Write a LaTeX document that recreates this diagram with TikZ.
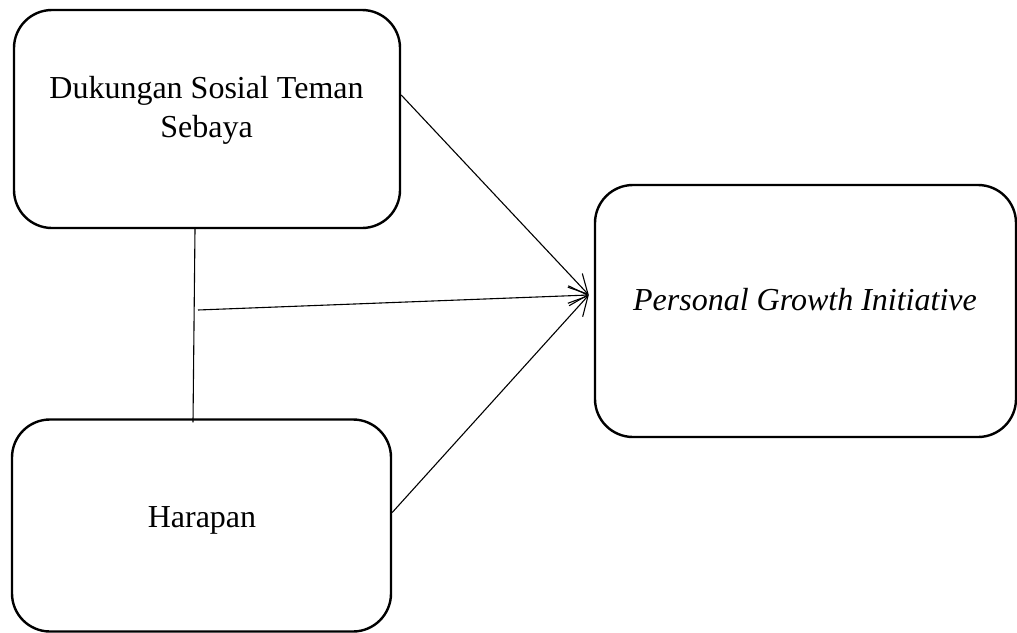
\documentclass[tikz,border=0pt]{standalone}
\usepackage{fontspec}
\setmainfont{Liberation Serif}
\usetikzlibrary{arrows.meta}
\begin{document}
\begin{tikzpicture}[x=1pt,y=-1pt,
  box/.style={draw, line width=2.4pt, rounded corners=38pt, inner sep=0pt},
  lbl/.style={font=\fontsize{32}{39}\selectfont, align=center, inner sep=0pt},
  conn/.style={line width=1.1pt},
  arr/.style={conn, -{Straight Barb[length=19pt,width=20pt,line width=1.1pt]}}]
\useasboundingbox (0,0) rectangle (1017,632);
\node[box, minimum width=386pt, minimum height=218pt] (b1) at (207,119) {};
\node[box, minimum width=379pt, minimum height=212pt] (b2) at (201.5,525.5) {};
\node[box, minimum width=421pt, minimum height=252pt] (b3) at (805.5,311) {};
\node[lbl] (t1) at (206.5,110) {Dukungan Sosial Teman\\Sebaya};
\node[lbl, anchor=base] (t2) at (202,527) {Harapan};
\node[lbl, anchor=base] (t3) at (805,310) {\itshape Personal Growth Initiative};
\coordinate (tip) at ([xshift=-5pt,yshift=16pt]b3.west);
\coordinate (m) at (198,310);
\draw[conn] ([xshift=-12pt]b1.south) -- ([xshift=-8.5pt,yshift=-4pt]b2.north);
\draw[arr] ([yshift=24pt]b1.east) -- (tip);
\draw[arr] (m) -- (tip);
\draw[arr] ([yshift=13pt]b2.east) -- (tip);
\end{tikzpicture}
\end{document}
